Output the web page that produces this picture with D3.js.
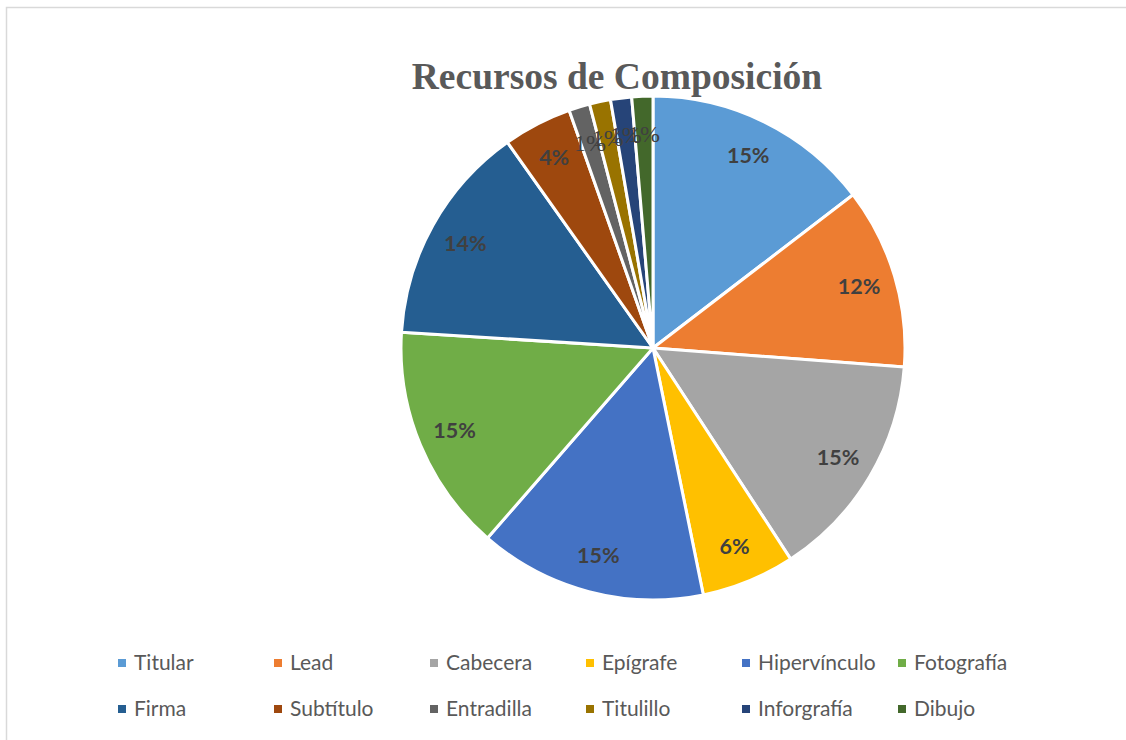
<!DOCTYPE html>
<html>
<head>
<meta charset="utf-8">
<script src="https://cdn.jsdelivr.net/npm/d3@7"></script>
<style>
  html, body { margin: 0; padding: 0; background: #fff; }
  svg { display: block; }
</style>
</head>
<body>
<div id="chart"></div>
<script>
// Recursos de Composición - pie chart

const categories = ["Titular", "Lead", "Cabecera", "Epígrafe", "Hipervínculo", "Fotografía",
  "Firma", "Subtítulo", "Entradilla", "Titulillo", "Inforgrafía", "Dibujo"];
const values = [14.6, 11.6, 14.6, 6.0, 14.6, 14.6, 14.2, 4.4, 1.35, 1.35, 1.35, 1.35];
const colors = ["#5B9BD5", "#ED7D31", "#A5A5A5", "#FFC000", "#4472C4", "#70AD47",
  "#255E91", "#9E480E", "#636363", "#997300", "#264478", "#43682B"];

const W = 1126, H = 740;
const cx = 653, cy = 348, R = 252;

const svg = d3.select("#chart").append("svg")
  .attr("width", W)
  .attr("height", H);

// chart border
svg.append("rect")
  .attr("x", 6.5).attr("y", 7.5)
  .attr("width", W + 10).attr("height", H + 10)
  .attr("fill", "none")
  .attr("stroke", "#d9d9d9")
  .attr("stroke-width", 1.5);

// title
svg.append("text")
  .attr("x", 617).attr("y", 89)
  .attr("text-anchor", "middle")
  .attr("font-family", "'Liberation Serif', 'DejaVu Serif', serif")
  .attr("font-weight", "bold")
  .attr("font-size", 37.5)
  .attr("fill", "#595959")
  .text("Recursos de Composición");

const total = d3.sum(values);
const data = categories.map((c, i) => ({ name: c, value: values[i], color: colors[i] }));

const pie = d3.pie().value(d => d.value).sort(null);
const arcs = pie(data);
const arc = d3.arc().innerRadius(0).outerRadius(R);
const labelArc = d3.arc().innerRadius(215).outerRadius(215);

const g = svg.append("g").attr("transform", `translate(${cx},${cy})`);

g.selectAll("path")
  .data(arcs)
  .enter()
  .append("path")
  .attr("d", arc)
  .attr("fill", d => d.data.color)
  .attr("stroke", "#fff")
  .attr("stroke-width", 3)
  .attr("stroke-linejoin", "round");

const pct = d3.format(".0%");

// etiquetas: grandes en negrita, pequeñas (1%) en serif
g.selectAll("text.lbl")
  .data(arcs)
  .enter()
  .append("text")
  .attr("class", "lbl")
  .attr("transform", d => `translate(${labelArc.centroid(d)})`)
  .attr("text-anchor", "middle")
  .attr("dy", "0.35em")
  .attr("font-family", d => d.data.value < 2 ? "'Liberation Serif', serif" : "Lato, 'Open Sans', sans-serif")
  .attr("font-weight", d => d.data.value < 2 ? "normal" : "bold")
  .attr("font-size", d => d.data.value < 2 ? 24 : 21.5)
  .attr("fill", "#404040")
  .text(d => pct(d.data.value / total));

// legend
const cols = 6;
const legend = svg.append("g");
const items = legend.selectAll("g")
  .data(data)
  .enter()
  .append("g")
  .attr("transform", (d, i) => `translate(${118 + (i % cols) * 156},${663 + Math.floor(i / cols) * 46})`);

items.append("rect")
  .attr("x", 0).attr("y", -4)
  .attr("width", 8).attr("height", 8)
  .attr("fill", d => d.color);

items.append("text")
  .attr("x", 16)
  .attr("dy", "0.35em")
  .attr("font-family", "Lato, 'Open Sans', sans-serif")
  .attr("font-size", 21)
  .attr("fill", "#595959")
  .text(d => d.name);
</script>
</body>
</html>
